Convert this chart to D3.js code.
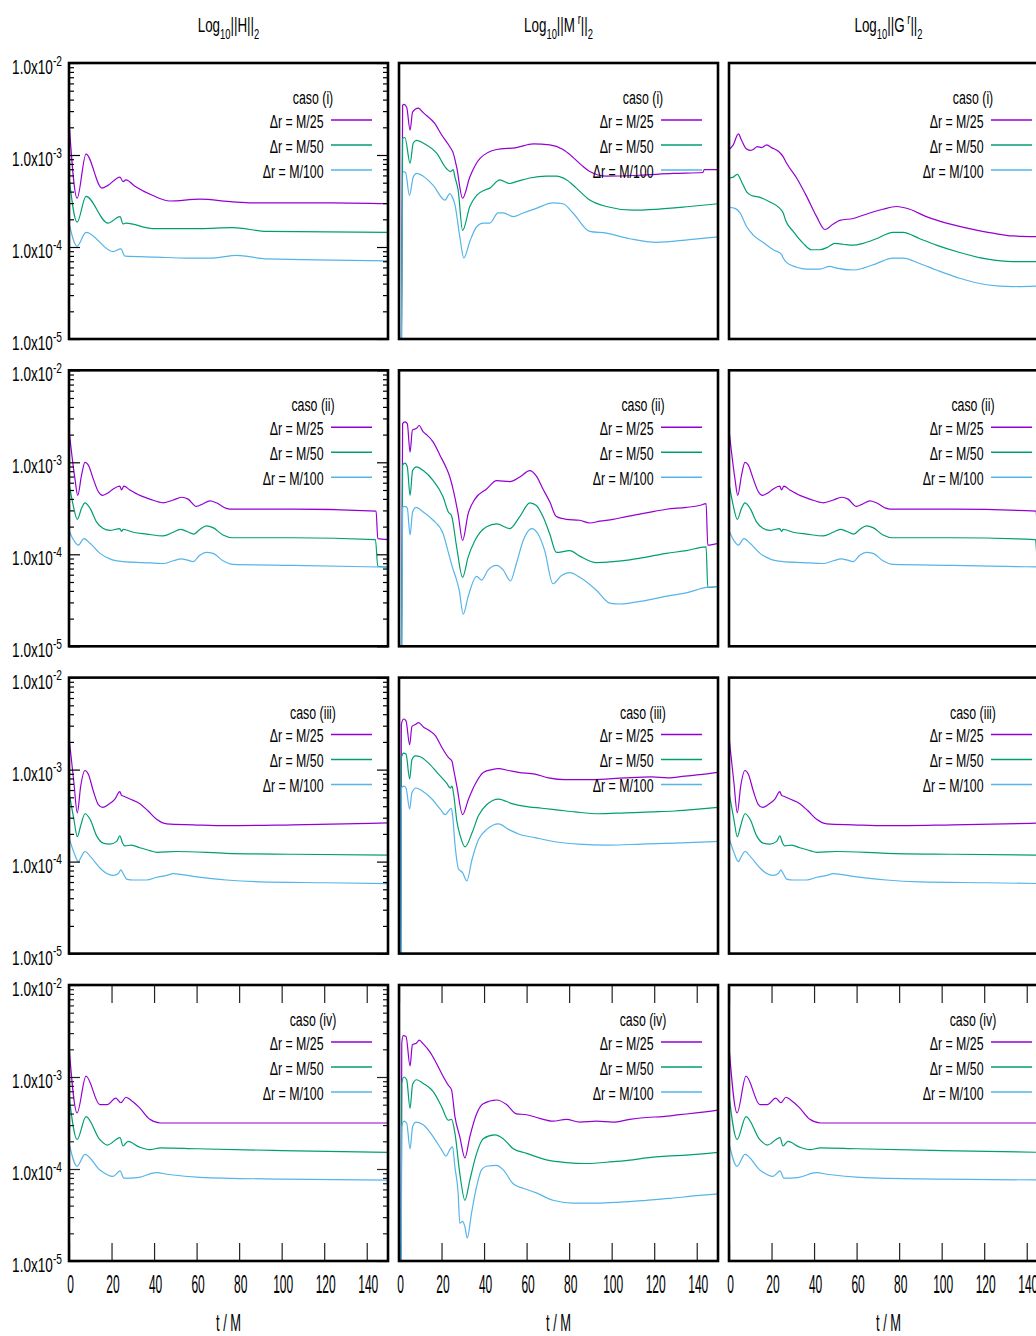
<!DOCTYPE html>
<html>
<head>
<meta charset="utf-8">
<script src="https://cdn.jsdelivr.net/npm/d3@7"></script>
<style>
  html, body { margin: 0; padding: 0; background: #fff; }
  svg { display: block; font-family: "Liberation Sans", Arial, sans-serif; }
</style>
</head>
<body>
<svg id="chart" width="1036" height="1336"></svg>
<script>
// Each series: [t/M, log10 of the L2 norm]

// ---- caso (i) ----
const H_i_25  = [[0,-2.64],[3.8,-3.47],[8,-2.99],[15.5,-3.36],[18.3,-3.33],[24,-3.24],[25.4,-3.29],[26.8,-3.27],[31,-3.34],[39.4,-3.44],[47.4,-3.50],[61.5,-3.48],[77,-3.51],[86.4,-3.52],[124,-3.52],[150,-3.53]];
const H_i_50  = [[0,-3.24],[3.8,-3.73],[8,-3.45],[18.3,-3.74],[24,-3.67],[25.4,-3.75],[26.8,-3.74],[39.4,-3.80],[61.5,-3.80],[77,-3.79],[93,-3.83],[150,-3.84]];
const H_i_100 = [[0,-3.74],[3.8,-3.99],[8,-3.84],[20.7,-4.05],[24.4,-4.02],[26.3,-4.10],[41.3,-4.11],[55.4,-4.12],[67.6,-4.12],[78.9,-4.09],[93,-4.13],[150,-4.15]];

const M_i_25  = [[0.5,-8],[1.7,-2.46],[2.3,-2.45],[3.6,-2.48],[5.2,-2.73],[6.4,-2.53],[9.1,-2.49],[11.4,-2.54],[16.9,-2.66],[20,-2.78],[23.9,-2.91],[25.5,-2.98],[27.1,-3.13],[29.9,-3.47],[33.3,-3.24],[38,-3.04],[45.9,-2.94],[55.2,-2.92],[63.1,-2.88],[70.9,-2.89],[77.1,-2.94],[81.1,-3.01],[85.8,-3.11],[89.7,-3.18],[97.5,-3.23],[113.1,-3.22],[128.8,-3.20],[142.9,-3.19],[143.5,-3.16],[150,-3.16]];
const M_i_50  = [[0.5,-8],[1.7,-2.82],[2.8,-2.81],[5.2,-3.09],[6.7,-2.87],[8.3,-2.84],[11.4,-2.87],[17.7,-2.98],[22.4,-3.15],[24.3,-3.18],[25.5,-3.16],[26.3,-3.24],[27.8,-3.38],[29.9,-3.82],[33.3,-3.56],[36.5,-3.44],[40.4,-3.38],[42.7,-3.36],[47.4,-3.27],[52.1,-3.31],[55.2,-3.29],[61.5,-3.25],[69.3,-3.23],[74,-3.23],[78.7,-3.27],[83.4,-3.36],[89.7,-3.49],[97.5,-3.56],[110,-3.60],[121,-3.59],[136.6,-3.56],[150,-3.53]];
const M_i_100 = [[0.5,-8],[1.9,-3.18],[3.1,-3.19],[4.9,-3.44],[6.7,-3.24],[8.3,-3.20],[11.4,-3.23],[16.1,-3.33],[21.6,-3.49],[23.9,-3.42],[24.9,-3.45],[26.3,-3.54],[28.6,-3.89],[30.5,-4.12],[33.3,-3.94],[36.5,-3.78],[39.6,-3.74],[42.7,-3.74],[46.6,-3.63],[49,-3.63],[53.7,-3.67],[58.4,-3.63],[64.6,-3.58],[72.4,-3.52],[77.1,-3.53],[81.8,-3.63],[89.7,-3.83],[97.5,-3.85],[108.5,-3.91],[121,-3.95],[136.6,-3.92],[150,-3.89]];

const G_i_25  = [[0,-2.94],[2,-2.89],[4.4,-2.77],[5.9,-2.84],[8,-2.93],[9.9,-2.95],[11.4,-2.94],[13.3,-2.91],[15.3,-2.92],[17.7,-2.89],[20,-2.92],[23.2,-2.96],[25.5,-3.02],[27.1,-3.09],[31.8,-3.25],[36.5,-3.45],[41.2,-3.67],[45.1,-3.81],[49,-3.75],[52.1,-3.71],[58.4,-3.69],[66.2,-3.63],[72.4,-3.59],[78.7,-3.56],[85,-3.59],[92.8,-3.67],[102.2,-3.74],[113.1,-3.80],[124.1,-3.85],[133.5,-3.88],[150,-3.89]];
const G_i_50  = [[0,-3.25],[2,-3.24],[3.9,-3.21],[5.9,-3.29],[8.3,-3.40],[10.6,-3.44],[14.6,-3.46],[19.2,-3.51],[23.9,-3.58],[25.5,-3.63],[26.6,-3.71],[30.2,-3.83],[34.9,-3.96],[38.8,-4.03],[42.7,-4.03],[46.6,-4.00],[49.8,-3.96],[53.7,-3.97],[58.4,-3.98],[63.1,-3.96],[69.3,-3.91],[77.1,-3.84],[81.8,-3.84],[89.7,-3.91],[97.5,-3.98],[108.5,-4.06],[121,-4.13],[133.5,-4.16],[150,-4.16]];
const G_i_100 = [[0,-3.57],[2.8,-3.58],[5.2,-3.63],[8.3,-3.78],[11.4,-3.87],[16.1,-3.95],[20.8,-4.03],[24.7,-4.08],[25.5,-4.12],[27.1,-4.17],[31.8,-4.22],[36.5,-4.24],[42.7,-4.24],[47.4,-4.21],[50.6,-4.23],[58.4,-4.25],[63.1,-4.23],[69.3,-4.18],[77.1,-4.12],[81.8,-4.12],[89.7,-4.18],[97.5,-4.25],[108.5,-4.34],[121,-4.41],[133.5,-4.43],[150,-4.42]];

// ---- caso (ii) ----
const H_ii_25  = [[0,-2.65],[2.8,-3.18],[4.1,-3.36],[5.9,-3.14],[7.5,-3.00],[9.1,-3.03],[11.4,-3.18],[13.8,-3.32],[15.8,-3.36],[18.5,-3.33],[20.8,-3.29],[23.9,-3.26],[24.7,-3.30],[25.8,-3.26],[28.6,-3.30],[33.3,-3.36],[38,-3.40],[44.3,-3.44],[49,-3.41],[52.9,-3.38],[56,-3.40],[59.9,-3.48],[63.1,-3.45],[66.2,-3.42],[69.3,-3.44],[74,-3.50],[77.1,-3.51],[105.3,-3.51],[144.4,-3.53],[145.2,-3.83],[150,-3.84]];
const H_ii_50  = [[0,-3.23],[2,-3.47],[3.9,-3.62],[5.9,-3.50],[7.5,-3.44],[9.9,-3.50],[13,-3.65],[16.1,-3.72],[19.2,-3.74],[23.9,-3.72],[24.7,-3.75],[25.5,-3.73],[30.2,-3.76],[36.5,-3.78],[44.3,-3.80],[49,-3.76],[52.4,-3.73],[55.3,-3.75],[58.7,-3.78],[61.5,-3.73],[64.6,-3.69],[67.7,-3.71],[72.4,-3.79],[77.1,-3.82],[105.3,-3.82],[144.1,-3.84],[145.2,-4.13],[150,-4.14]];
const H_ii_100 = [[0,-3.74],[2.3,-3.85],[4.4,-3.90],[7,-3.83],[9.9,-3.88],[14.6,-3.99],[19.2,-4.05],[25.5,-4.08],[34.9,-4.09],[44.3,-4.10],[49,-4.07],[52.9,-4.05],[55.3,-4.06],[58.4,-4.08],[61.5,-4.01],[64.6,-3.98],[67.7,-3.99],[72.4,-4.07],[77.1,-4.11],[105.3,-4.12],[150,-4.14]];

const M_ii_25  = [[0.5,-8],[1.7,-2.58],[2.8,-2.56],[3.9,-2.58],[5.2,-2.89],[6.3,-2.65],[8.3,-2.63],[9.5,-2.60],[11.4,-2.67],[13,-2.70],[16.1,-2.78],[19.2,-2.92],[22.4,-3.07],[23.9,-3.16],[25.5,-3.30],[27.8,-3.56],[29.9,-3.85],[32.5,-3.56],[35.7,-3.40],[41.2,-3.29],[45.9,-3.20],[52.1,-3.21],[56.8,-3.16],[61.5,-3.09],[64.6,-3.15],[67.7,-3.29],[70.9,-3.43],[74,-3.59],[78.7,-3.62],[85,-3.63],[89.7,-3.66],[94.4,-3.64],[100.6,-3.62],[106.9,-3.59],[116.3,-3.55],[125.7,-3.51],[135.1,-3.49],[141.3,-3.47],[144.4,-3.45],[145.2,-3.90],[150,-3.88]];
const M_ii_50  = [[0.5,-8],[1.7,-3.03],[2.8,-3.01],[3.9,-3.05],[5.2,-3.36],[6.4,-3.09],[8.3,-3.05],[11.4,-3.09],[16.1,-3.20],[20.8,-3.38],[23.2,-3.54],[24.7,-3.58],[27.1,-3.92],[29.9,-4.25],[32.5,-4.03],[35.7,-3.85],[41.2,-3.70],[45.9,-3.67],[52.1,-3.72],[56.8,-3.59],[61.5,-3.44],[64.6,-3.47],[67.7,-3.59],[70.9,-3.78],[74,-3.98],[80.3,-3.96],[85,-4.02],[92.8,-4.09],[100.6,-4.08],[108.5,-4.06],[116.3,-4.03],[125.7,-3.99],[135.1,-3.96],[144.4,-3.92],[145.2,-4.36],[150,-4.35]];
const M_ii_100 = [[0.5,-8],[1.7,-3.49],[2.8,-3.48],[3.9,-3.50],[5.2,-3.79],[6.4,-3.54],[8,-3.49],[11.4,-3.54],[16.1,-3.63],[20.8,-3.78],[23.2,-3.98],[25.5,-4.17],[27.1,-4.28],[28.3,-4.39],[30.2,-4.65],[32.5,-4.46],[36.5,-4.24],[38.8,-4.28],[41.9,-4.17],[45.9,-4.12],[49,-4.17],[52.4,-4.29],[55.2,-4.10],[58.4,-3.85],[62.3,-3.72],[65.4,-3.78],[68.5,-3.96],[72.4,-4.32],[76.4,-4.23],[80.3,-4.20],[85,-4.25],[92.8,-4.39],[99.1,-4.53],[103.8,-4.54],[116.3,-4.50],[127.2,-4.45],[135.1,-4.42],[144.4,-4.36],[150,-4.35]];

const G_ii_25  = H_ii_25;
const G_ii_50  = H_ii_50;
const G_ii_100 = H_ii_100;

// ---- caso (iii) ----
const H_iii_25  = [[0,-2.65],[2.3,-3.14],[3.9,-3.47],[5.5,-3.18],[7.5,-3.01],[9.1,-3.05],[11.4,-3.23],[13.8,-3.38],[15.8,-3.41],[18.5,-3.38],[21.6,-3.32],[23.9,-3.24],[24.7,-3.28],[25.8,-3.29],[28.6,-3.32],[33.3,-3.37],[37.2,-3.45],[41.2,-3.54],[46,-3.59],[58.4,-3.60],[74,-3.61],[105.3,-3.60],[150,-3.58]];
const H_iii_50  = [[0,-3.25],[2.3,-3.54],[3.9,-3.73],[5.5,-3.61],[7.5,-3.48],[9.9,-3.54],[13,-3.72],[16.1,-3.80],[19.2,-3.81],[22.4,-3.78],[23.9,-3.72],[25.2,-3.80],[26.3,-3.83],[29.4,-3.82],[33.3,-3.85],[38,-3.88],[41.2,-3.90],[50.6,-3.89],[74,-3.91],[105.3,-3.92],[150,-3.93]];
const H_iii_100 = [[0,-3.74],[2.3,-3.90],[4.4,-4.00],[5.5,-3.96],[7.5,-3.89],[10.6,-3.96],[14.6,-4.07],[17.7,-4.13],[20.8,-4.15],[23.2,-4.13],[24.4,-4.09],[25.5,-4.13],[27.1,-4.19],[30.2,-4.20],[36.5,-4.20],[41.2,-4.17],[46,-4.15],[49,-4.13],[58.4,-4.16],[74,-4.20],[89.7,-4.22],[121,-4.23],[150,-4.24]];

const M_iii_25  = [[0.5,-8],[1.1,-2.51],[2.2,-2.45],[3.3,-2.47],[5,-2.73],[6.1,-2.53],[7.7,-2.51],[9.2,-2.49],[11.6,-2.54],[13.9,-2.57],[17.1,-2.63],[20.2,-2.76],[23.3,-2.87],[24.9,-2.91],[25.7,-3.00],[27.2,-3.18],[29.9,-3.49],[32.7,-3.32],[35.8,-3.16],[39.8,-3.03],[43.7,-3.00],[46.8,-2.99],[51.5,-3.01],[56.2,-3.03],[64,-3.05],[70.3,-3.09],[78.1,-3.11],[90.6,-3.11],[106.3,-3.09],[118.8,-3.08],[126.6,-3.09],[134.4,-3.07],[143.8,-3.05],[150,-3.03]];
const M_iii_50  = [[0.5,-8],[1.1,-2.87],[2.2,-2.82],[3.3,-2.83],[5,-3.10],[6.1,-2.89],[7.7,-2.85],[10,-2.86],[13.9,-2.93],[18.6,-3.05],[22.5,-3.15],[24.1,-3.20],[24.9,-3.18],[25.7,-3.27],[27.2,-3.56],[28.8,-3.72],[31.1,-3.84],[34.3,-3.69],[37.4,-3.50],[41.3,-3.38],[46.8,-3.32],[53.1,-3.37],[59.3,-3.40],[67.1,-3.42],[75,-3.44],[82.8,-3.46],[93.8,-3.48],[106.3,-3.47],[118.8,-3.46],[129.7,-3.45],[140.7,-3.43],[150,-3.41]];
const M_iii_100 = [[0.5,-8],[1.1,-3.20],[2.2,-3.18],[3.3,-3.20],[5,-3.43],[6.1,-3.25],[8,-3.20],[10.8,-3.23],[15.5,-3.32],[19.4,-3.43],[21.7,-3.49],[23.3,-3.45],[24.6,-3.42],[25.2,-3.50],[26.4,-3.83],[28,-4.08],[29.9,-4.12],[31.9,-4.21],[34.3,-3.98],[37.4,-3.76],[41.3,-3.65],[46.8,-3.59],[51.5,-3.65],[56.2,-3.70],[64,-3.74],[75,-3.79],[84.4,-3.81],[98.4,-3.82],[114.1,-3.81],[129.7,-3.80],[150,-3.78]];

const G_iii_25  = H_iii_25;
const G_iii_50  = H_iii_50;
const G_iii_100 = H_iii_100;

// ---- caso (iv) ----
const H_iv_25  = [[0,-2.67],[3.8,-3.39],[8,-2.99],[14.5,-3.30],[18,-3.30],[22,-3.23],[24.4,-3.28],[26.8,-3.22],[29,-3.25],[33,-3.33],[38,-3.46],[43,-3.50],[80,-3.50],[150,-3.50]];
const H_iv_50  = [[0,-3.20],[3.8,-3.68],[8,-3.43],[14.5,-3.68],[18,-3.74],[24,-3.66],[25.4,-3.75],[27.7,-3.70],[33,-3.76],[38,-3.79],[43,-3.77],[60,-3.78],[100,-3.80],[150,-3.82]];
const H_iv_100 = [[0,-3.72],[3.8,-3.97],[7.5,-3.84],[14.5,-4.01],[20.7,-4.08],[24,-4.02],[25.8,-4.10],[33,-4.09],[41,-4.04],[47,-4.06],[61.5,-4.09],[100,-4.11],[150,-4.12]];

const M_iv_25  = [[0.5,-8],[1.3,-2.63],[2,-2.55],[3.3,-2.56],[5.2,-2.88],[6.3,-2.65],[8.3,-2.63],[9.5,-2.60],[11.4,-2.64],[14.6,-2.73],[16.9,-2.82],[20,-2.96],[23.2,-3.09],[24.7,-3.14],[26.3,-3.43],[28.6,-3.65],[31,-3.88],[33.3,-3.65],[36.5,-3.40],[39.6,-3.29],[45.9,-3.25],[50.6,-3.30],[55.2,-3.40],[60,-3.41],[66.2,-3.45],[72.4,-3.48],[78.7,-3.46],[85,-3.49],[92.8,-3.48],[100.6,-3.49],[108.5,-3.46],[116.3,-3.44],[124.1,-3.43],[131.9,-3.41],[139.8,-3.39],[150,-3.36]];
const M_iv_50  = [[0.5,-8],[1.3,-3.07],[2.3,-3.00],[3.6,-3.03],[5.2,-3.34],[6.4,-3.08],[8.3,-3.03],[11.4,-3.07],[16.1,-3.16],[20,-3.32],[23.2,-3.47],[24.7,-3.46],[26.3,-3.61],[28.6,-4.05],[31,-4.34],[33.3,-4.12],[36.5,-3.83],[39.6,-3.67],[45.1,-3.63],[49,-3.67],[53.7,-3.78],[60,-3.83],[69.3,-3.90],[78.7,-3.93],[88.1,-3.94],[100.6,-3.92],[110,-3.90],[116.3,-3.88],[125.7,-3.86],[135.1,-3.85],[150,-3.82]];
const M_iv_100 = [[0.5,-8],[1.3,-3.54],[2.3,-3.48],[3.6,-3.50],[5.2,-3.78],[6.4,-3.54],[8,-3.49],[11.4,-3.52],[16.1,-3.65],[20,-3.79],[22.1,-3.86],[23.9,-3.79],[25.2,-3.76],[26.3,-3.98],[27.8,-4.26],[28.6,-4.59],[29.9,-4.57],[31,-4.63],[32.1,-4.75],[34.1,-4.48],[36.5,-4.19],[38.8,-4.01],[41.2,-3.97],[45.9,-3.96],[49,-4.01],[53.7,-4.16],[58.4,-4.21],[64.6,-4.26],[72.4,-4.34],[81.8,-4.37],[92.8,-4.37],[103.8,-4.36],[116.3,-4.34],[127.2,-4.32],[139.8,-4.29],[150,-4.27]];

const G_iv_25  = H_iv_25;
const G_iv_50  = H_iv_50;
const G_iv_100 = H_iv_100;

// Labels and ticks
const caseLabels   = ["caso (i)", "caso (ii)", "caso (iii)", "caso (iv)"];
const seriesLabels = ["\u0394r = M/25", "\u0394r = M/50", "\u0394r = M/100"];
const seriesColors = ["#9400d3", "#009e73", "#56b4e9"];
const normNames    = ["H", "M", "G"];
const xTickValues  = [0, 20, 40, 60, 80, 100, 120, 140];
const yMajorTicks  = [1e-5, 1e-4, 1e-3, 1e-2];
const tDomain      = [0, 150];
const normDomain   = [1e-5, 1e-2];

const grid = [
  [[H_i_25, H_i_50, H_i_100],       [M_i_25, M_i_50, M_i_100],       [G_i_25, G_i_50, G_i_100]],
  [[H_ii_25, H_ii_50, H_ii_100],    [M_ii_25, M_ii_50, M_ii_100],    [G_ii_25, G_ii_50, G_ii_100]],
  [[H_iii_25, H_iii_50, H_iii_100], [M_iii_25, M_iii_50, M_iii_100], [G_iii_25, G_iii_50, G_iii_100]],
  [[H_iv_25, H_iv_50, H_iv_100],    [M_iv_25, M_iv_50, M_iv_100],    [G_iv_25, G_iv_50, G_iv_100]]
];

// ---- layout ----
const svg = d3.select("#chart");
const colLeft = [69, 399, 729];
const rowTop  = [63, 370.3, 677.6, 985];
const PW = 319, PH = 276;

const yMinorTicks = d3.range(-5, -2).flatMap(e => d3.range(2, 10).map(k => k * Math.pow(10, e)));

// Condensed text: a horizontal squeeze applied around the anchor point
function label(parent, x, y, size, sx, anchor, parts) {
  const t = parent.append("g")
    .attr("transform", `translate(${x},${y}) scale(${sx},1)`)
    .append("text")
    .attr("text-anchor", anchor)
    .attr("font-size", size)
    .attr("fill", "#000");
  parts.forEach(p => {
    const s = t.append("tspan").text(p.t);
    if (p.dx) s.attr("dx", p.dx);
    if (p.dy) s.attr("dy", p.dy);
    if (p.size) s.attr("font-size", p.size);
  });
}

function titleParts(name) {
  const parts = [{t: "Log"}, {t: "10", dy: 6.5, size: 14}];
  if (name === "H") {
    parts.push({t: "||H||", dy: -6.5});
  } else {
    parts.push({t: "||" + name, dy: -6.5});
    parts.push({t: "r", dx: 4, dy: -8, size: 14});
    parts.push({t: "||", dy: 8});
  }
  parts.push({t: "2", dy: 6.5, size: 14});
  return parts;
}

grid.forEach((rowSeries, r) => {
  rowSeries.forEach((series, c) => {
    const x0 = colLeft[c], y0 = rowTop[r];
    const x = d3.scaleLinear().domain(tDomain).range([x0, x0 + PW]);
    const y = d3.scaleLog().domain(normDomain).range([y0 + PH, y0]);

    const clipId = `clip-${r}-${c}`;
    svg.append("clipPath").attr("id", clipId)
      .append("rect").attr("x", x0).attr("y", y0).attr("width", PW).attr("height", PH);

    const line = d3.line()
      .x(d => x(d[0]))
      .y(d => y(Math.pow(10, d[1])))
      .curve(d3.curveMonotoneX);

    const plot = svg.append("g").attr("clip-path", `url(#${clipId})`);
    series.forEach((s, i) => {
      plot.append("path")
        .attr("d", line(s))
        .attr("fill", "none")
        .attr("stroke", seriesColors[i])
        .attr("stroke-width", 1.2)
        .attr("stroke-linejoin", "round");
    });

    const ticks = svg.append("g").attr("stroke-width", 1.2);
    const strip = a => { a.select(".domain").remove(); a.selectAll("text").remove(); };

    if (c === 0) {
      ticks.append("g").attr("transform", `translate(${x0},0)`)
        .call(d3.axisLeft(y).tickValues(yMajorTicks).tickSize(-11).tickFormat("")).call(strip);
      ticks.append("g").attr("transform", `translate(${x0},0)`)
        .call(d3.axisLeft(y).tickValues(yMinorTicks).tickSize(-5).tickFormat("")).call(strip);
      ticks.append("g").attr("transform", `translate(${x0 + PW},0)`)
        .call(d3.axisRight(y).tickValues(yMajorTicks).tickSize(-11).tickFormat("")).call(strip);
      ticks.append("g").attr("transform", `translate(${x0 + PW},0)`)
        .call(d3.axisRight(y).tickValues(yMinorTicks).tickSize(-5).tickFormat("")).call(strip);

      yMajorTicks.forEach(v => {
        const e = Math.round(Math.log10(v));
        label(svg, x0 - 7, y(v) + 11, 20, 0.68, "end",
          [{t: "1.0x10"}, {t: String(e), dy: -8.5, size: 15}]);
      });
    }

    if (r === grid.length - 1) {
      ticks.append("g").attr("transform", `translate(0,${y0 + PH})`)
        .call(d3.axisBottom(x).tickValues(xTickValues).tickSize(-18).tickFormat("")).call(strip);
      ticks.append("g").attr("transform", `translate(0,${y0})`)
        .call(d3.axisTop(x).tickValues(xTickValues).tickSize(-18).tickFormat("")).call(strip);
      ticks.selectAll("line").attr("stroke", "#222");

      xTickValues.forEach(v => {
        label(svg, x(v) + 1.5, y0 + PH + 32, 25, 0.48, "middle", [{t: String(v)}]);
      });
      label(svg, x0 + PW / 2, 1331, 23, 0.56, "middle", [{t: "t / M"}]);
    }

    if (r === 0) {
      label(svg, x0 + PW / 2, 32, 20, 0.67, "middle", titleParts(normNames[c]));
    }

    // key
    label(svg, x0 + 244, y0 + 41, 19, 0.65, "middle", [{t: caseLabels[r]}]);
    seriesLabels.forEach((txt, i) => {
      const ly = y0 + 57 + i * 25;
      label(svg, x0 + 254.5, ly + 7.5, 19, 0.65, "end", [{t: txt}]);
      svg.append("line")
        .attr("x1", x0 + 262).attr("x2", x0 + 303)
        .attr("y1", ly).attr("y2", ly)
        .attr("stroke", seriesColors[i]).attr("stroke-width", 1.5);
    });

    svg.append("rect")
      .attr("x", x0).attr("y", y0).attr("width", PW).attr("height", PH)
      .attr("fill", "none").attr("stroke", "#000").attr("stroke-width", 2.6);
  });
});
</script>
</body>
</html>
